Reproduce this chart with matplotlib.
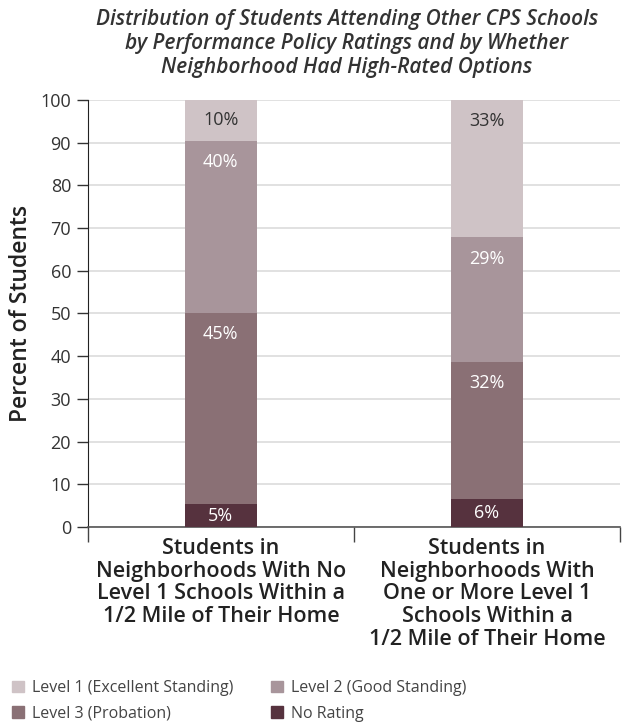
import numpy as np
import matplotlib.pyplot as plt
from matplotlib.patches import Patch

plt.rcParams['font.family'] = ['Open Sans', 'DejaVu Sans']

# data
groups = ['Students in\nNeighborhoods With No\nLevel 1 Schools Within a\n1/2 Mile of Their Home',
          'Students in\nNeighborhoods With\nOne or More Level 1\nSchools Within a\n1/2 Mile of Their Home']
series = ['No Rating', 'Level 3 (Probation)', 'Level 2 (Good Standing)', 'Level 1 (Excellent Standing)']
no_rating = [5.4, 6.6]
level3 = [44.7, 32.0]
level2 = [40.3, 29.2]
level1 = [9.6, 32.2]
labels_no_rating = ['5%', '6%']
labels_level3 = ['45%', '32%']
labels_level2 = ['40%', '29%']
labels_level1 = ['10%', '33%']

colors = ['#56323e', '#8a7075', '#a8959b', '#cfc3c6']
text_colors = ['white', 'white', 'white', '#333333']

fig = plt.figure(figsize=(6.27, 7.23), dpi=100)
ax = fig.add_axes([0.140, 0.271, 0.849, 0.591])

x = np.arange(len(groups))
bottom = np.zeros(len(groups))
stack = [no_rating, level3, level2, level1]
stack_labels = [labels_no_rating, labels_level3, labels_level2, labels_level1]
for vals, labs, col, tcol in zip(stack, stack_labels, colors, text_colors):
    vals = np.array(vals)
    ax.bar(x, vals, bottom=bottom, width=0.273, color=col, zorder=3)
    for xi, b, v, lab in zip(x, bottom, vals, labs):
        # label near the top of a segment, centred if the segment is thin
        ypos = max(b + v / 2, b + v - 5)
        ax.text(xi, ypos, lab, ha='center', va='center', color=tcol,
                fontsize=13, zorder=4)
    bottom = bottom + vals

ax.set_xlim(-0.5, 1.5)
ax.set_ylim(0, 100)
ax.set_yticks(np.arange(0, 101, 10))
ax.yaxis.grid(True, color='#dcdcdc', linewidth=1.2, zorder=0)
ax.tick_params(axis='y', direction='out', length=8, width=1, color='#333333',
               labelsize=13, labelcolor='#333333', pad=4)

ax.set_xticks(x)
ax.set_xticklabels(groups, fontsize=15.5, fontweight='semibold', color='#222222',
                   linespacing=1.1)
ax.set_xticks([-0.5, 0.5, 1.5], minor=True)
ax.tick_params(axis='x', which='major', length=0, pad=8)
ax.tick_params(axis='x', which='minor', direction='out', length=11, width=1, color='#444444')

for side in ['top', 'right']:
    ax.spines[side].set_visible(False)
ax.spines['left'].set_color('#222222')
ax.spines['bottom'].set_color('#555555')
ax.spines['bottom'].set_linewidth(1.2)

ax.set_ylabel('Percent of Students', fontsize=16.5, fontweight='semibold', color='#222222', labelpad=5)

fig.text(0.553, 0.987, 'Distribution of Students Attending Other CPS Schools\n'
         'by Performance Policy Ratings and by Whether\n'
         'Neighborhood Had High-Rated Options',
         ha='center', va='top', fontsize=15, style='italic', fontweight='semibold',
         color='#333333', linespacing=1.18)

handles = [Patch(color=colors[3]), Patch(color=colors[1]), Patch(color=colors[2]), Patch(color=colors[0])]
names = [series[3], series[1], series[2], series[0]]
leg = fig.legend(handles, names, loc='lower left', bbox_to_anchor=(-0.003, -0.018), ncol=2,
                 frameon=False, fontsize=11.5, handlelength=0.75, handleheight=0.75,
                 handletextpad=0.45, columnspacing=2.4, labelspacing=0.6)
for t in leg.get_texts():
    t.set_color('#444444')

fig.savefig('out.png', dpi=100)
